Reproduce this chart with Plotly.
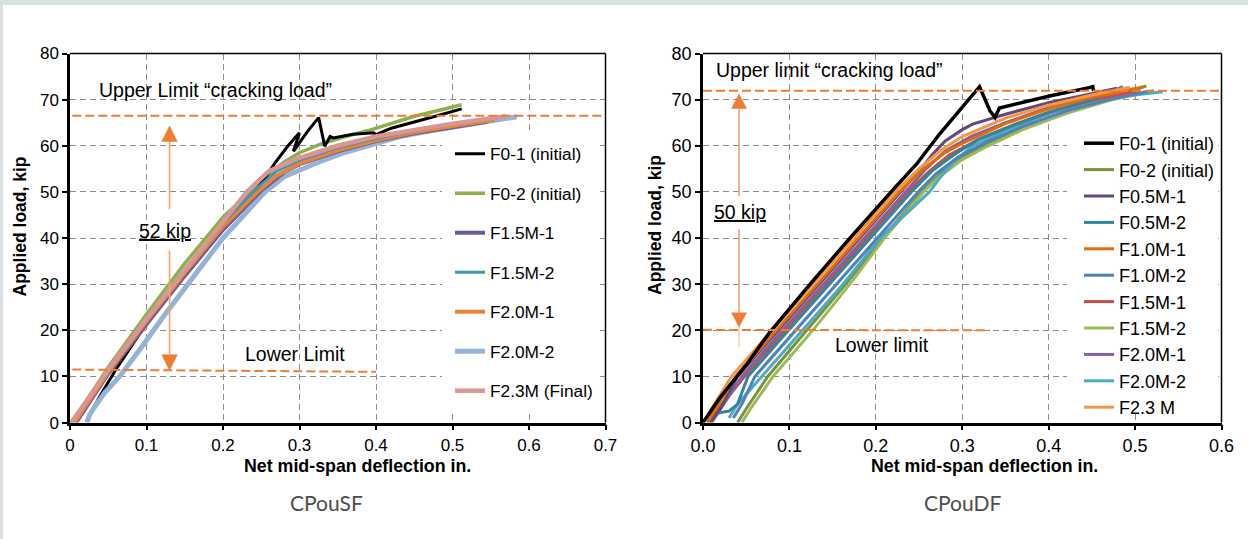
import plotly.graph_objects as go

W, H = 1248, 539
FONT = "Arial, Liberation Sans, sans-serif"

# ---------------- CPouSF (left) data ----------------
SF_NAMES = ["F0-1 (initial)", "F0-2 (initial)", "F1.5M-1", "F1.5M-2", "F2.0M-1", "F2.0M-2", "F2.3M (Final)"]
SF_COLORS = ["#000000", "#8BB04E", "#6E5A98", "#3C98B0", "#E8843A", "#95B3D7", "#D99694"]
SF_WIDTHS = [3, 3.5, 4, 3, 4, 5, 4.5]

sf_f01_x = [0.025, 0.04, 0.06, 0.1, 0.15, 0.2, 0.24, 0.255, 0.268, 0.285, 0.300, 0.292, 0.31, 0.325, 0.333, 0.34, 0.344, 0.37, 0.397, 0.40, 0.42, 0.448, 0.48, 0.512]
sf_f01_y = [1.5, 6.0, 11.5, 21.5, 32.0, 42.2, 49.8, 53.0, 56.3, 60.0, 62.8, 58.8, 63.0, 66.1, 59.9, 62.0, 61.7, 62.5, 62.8, 62.4, 63.8, 65.0, 66.5, 68.0]
sf_f02_x = [0.003, 0.05, 0.1, 0.15, 0.2, 0.235, 0.26, 0.28, 0.3, 0.33, 0.36, 0.39, 0.42, 0.45, 0.48, 0.512]
sf_f02_y = [0.0, 12.0, 23.5, 34.5, 44.5, 50.0, 53.8, 56.5, 58.5, 60.5, 62.0, 63.3, 64.8, 66.4, 67.6, 68.9]
sf_f15m1_x = [0.008, 0.05, 0.1, 0.15, 0.2, 0.25, 0.28, 0.3, 0.35, 0.4, 0.45, 0.5, 0.545]
sf_f15m1_y = [0.0, 10.6, 21.3, 31.8, 41.8, 50.3, 54.3, 56.0, 58.8, 61.0, 62.7, 64.1, 65.2]
sf_f15m2_x = [0.001, 0.05, 0.1, 0.15, 0.2, 0.24, 0.27, 0.3, 0.35, 0.4, 0.45, 0.5, 0.56]
sf_f15m2_y = [0.0, 11.4, 22.5, 33.2, 43.2, 50.2, 54.5, 56.9, 59.6, 61.6, 63.3, 64.7, 66.0]
sf_f20m1_x = [0.006, 0.05, 0.1, 0.15, 0.2, 0.245, 0.27, 0.3, 0.35, 0.4, 0.45, 0.5, 0.555]
sf_f20m1_y = [0.0, 11.0, 22.0, 32.5, 42.5, 50.0, 53.5, 56.2, 59.0, 61.2, 62.9, 64.3, 65.6]
sf_f20m2_x = [0.022, 0.026, 0.033, 0.045, 0.065, 0.08, 0.1, 0.12, 0.144, 0.17, 0.2, 0.23, 0.255, 0.28, 0.3, 0.33, 0.36, 0.4, 0.431, 0.47, 0.51, 0.55, 0.584]
sf_f20m2_y = [0.0, 1.8, 3.6, 6.4, 10.0, 13.2, 17.8, 22.5, 28.0, 33.5, 40.0, 45.5, 50.0, 53.3, 54.8, 56.8, 58.6, 60.5, 62.0, 63.2, 64.3, 65.3, 66.3]
sf_f23m_x = [0.002, 0.05, 0.1, 0.15, 0.2, 0.231, 0.26, 0.3, 0.35, 0.4, 0.453, 0.5, 0.57]
sf_f23m_y = [0.0, 11.5, 22.5, 33.0, 43.5, 50.0, 54.5, 57.4, 60.0, 62.0, 63.5, 64.8, 66.4]

SF_X = [sf_f01_x, sf_f02_x, sf_f15m1_x, sf_f15m2_x, sf_f20m1_x, sf_f20m2_x, sf_f23m_x]
SF_Y = [sf_f01_y, sf_f02_y, sf_f15m1_y, sf_f15m2_y, sf_f20m1_y, sf_f20m2_y, sf_f23m_y]
SF_DRAW_ORDER = [1, 0, 5, 2, 4, 3, 6]

SF_UPPER = 66.5
SF_LOWER = [11.5, 11.0]
SF_LOWER_X = [0.003, 0.4]
SF_ARROW_X = 0.1301
SF_ARROW_Y = [64.3, 60.9, 46.3, 37.3, 14.7, 11.3]   # tip, base, gap start, gap end, base, tip

# ---------------- CPouDF (right) data ----------------
DF_NAMES = ["F0-1 (initial)", "F0-2 (initial)", "F0.5M-1", "F0.5M-2", "F1.0M-1", "F1.0M-2",
            "F1.5M-1", "F1.5M-2", "F2.0M-1", "F2.0M-2", "F2.3 M"]
DF_COLORS = ["#000000", "#77933C", "#604A7B", "#31859C", "#E46C0A", "#4F81BD",
             "#C0504D", "#9BBB59", "#8064A2", "#4BACC6", "#F79646"]
DF_WIDTHS = [3.5, 3, 3, 3, 3, 3, 3, 3, 3, 3, 3]

df_f01_x = [0.0, 0.02, 0.05, 0.077, 0.124, 0.170, 0.220, 0.247, 0.274, 0.297, 0.320, 0.332, 0.338, 0.343, 0.361, 0.401, 0.447, 0.451, 0.452]
df_f01_y = [0.0, 5.5, 12.5, 19.5, 30.0, 40.0, 50.5, 56.0, 62.6, 67.6, 72.8, 67.6, 66.1, 68.2, 69.0, 70.8, 72.6, 72.8, 71.9]
df_f02_x = [0.04, 0.05, 0.075, 0.12, 0.165, 0.208, 0.253, 0.275, 0.3, 0.34, 0.38, 0.43, 0.48, 0.513]
df_f02_y = [0.0, 3.0, 10.0, 20.0, 30.0, 40.0, 50.0, 54.0, 57.5, 61.5, 64.5, 68.0, 70.8, 73.0]
df_f05m1_x = [0.008, 0.02, 0.040, 0.087, 0.134, 0.181, 0.229, 0.25, 0.265, 0.28, 0.3, 0.312, 0.351, 0.401, 0.447, 0.479]
df_f05m1_y = [0.0, 3.0, 10.0, 20.0, 30.0, 40.0, 50.0, 54.5, 58.0, 61.0, 63.5, 64.7, 66.9, 69.4, 71.2, 72.5]
df_f05m2_x = [0.015, 0.03, 0.04, 0.052, 0.099, 0.146, 0.193, 0.241, 0.265, 0.29, 0.32, 0.36, 0.4, 0.45, 0.486]
df_f05m2_y = [2.0, 2.5, 4.0, 10.0, 20.0, 30.0, 40.0, 50.0, 54.5, 58.0, 61.5, 64.5, 67.3, 70.0, 72.8]
df_f10m1_x = [0.005, 0.038, 0.085, 0.132, 0.179, 0.227, 0.255, 0.28, 0.3, 0.35, 0.4, 0.45, 0.5, 0.51]
df_f10m1_y = [0.0, 10.0, 20.0, 30.0, 40.0, 50.0, 55.0, 58.5, 60.5, 64.8, 68.0, 70.5, 72.4, 72.8]
df_f10m2_x = [0.035, 0.045, 0.060, 0.107, 0.154, 0.201, 0.249, 0.27, 0.295, 0.33, 0.37, 0.42, 0.47, 0.515]
df_f10m2_y = [1.0, 4.0, 10.0, 20.0, 30.0, 40.0, 50.0, 54.0, 57.5, 61.0, 64.2, 67.5, 70.0, 71.8]
df_f15m1_x = [0.005, 0.048, 0.095, 0.142, 0.189, 0.237, 0.262, 0.285, 0.32, 0.36, 0.41, 0.46, 0.505]
df_f15m1_y = [0.0, 10.0, 20.0, 30.0, 40.0, 50.0, 54.5, 58.0, 61.5, 64.6, 67.8, 70.3, 72.0]
df_f15m2_x = [0.045, 0.055, 0.081, 0.127, 0.17, 0.21, 0.255, 0.275, 0.3, 0.33, 0.37, 0.42, 0.47, 0.522]
df_f15m2_y = [0.0, 3.0, 10.0, 20.0, 30.0, 40.0, 50.0, 53.5, 57.0, 60.0, 63.5, 67.0, 69.8, 72.0]
df_f20m1_x = [0.01, 0.045, 0.092, 0.139, 0.186, 0.234, 0.258, 0.28, 0.31, 0.35, 0.4, 0.45, 0.49]
df_f20m1_y = [0.0, 10.0, 20.0, 30.0, 40.0, 50.0, 55.0, 58.8, 62.0, 65.0, 68.3, 70.8, 72.3]
df_f20m2_x = [0.03, 0.04, 0.068, 0.115, 0.162, 0.205, 0.262, 0.274, 0.29, 0.312, 0.351, 0.401, 0.447, 0.49, 0.532]
df_f20m2_y = [1.0, 4.0, 10.0, 20.0, 30.0, 40.0, 50.0, 53.0, 56.5, 60.0, 63.4, 67.0, 69.4, 70.8, 71.7]
df_f23m_x = [0.0, 0.033, 0.080, 0.127, 0.174, 0.222, 0.25, 0.275, 0.3, 0.35, 0.4, 0.45, 0.494]
df_f23m_y = [0.0, 10.0, 20.0, 30.0, 40.0, 50.0, 55.0, 59.0, 62.0, 66.0, 68.8, 71.0, 72.7]

DF_X = [df_f01_x, df_f02_x, df_f05m1_x, df_f05m2_x, df_f10m1_x, df_f10m2_x, df_f15m1_x, df_f15m2_x, df_f20m1_x, df_f20m2_x, df_f23m_x]
DF_Y = [df_f01_y, df_f02_y, df_f05m1_y, df_f05m2_y, df_f10m1_y, df_f10m2_y, df_f15m1_y, df_f15m2_y, df_f20m1_y, df_f20m2_y, df_f23m_y]
DF_DRAW_ORDER = [1, 7, 9, 5, 6, 3, 8, 2, 4, 10, 0]

DF_UPPER = 71.9
DF_LOWER = [20.1, 20.0]
DF_LOWER_X = [0.0, 0.332]
DF_ARROW_X = 0.0417
DF_ARROW_Y = [71.2, 68.1, 49.1, 41.9, 23.8, 20.7, 16.4]

# ---------------- geometry (pixels) ----------------
LX0, LX1 = 70.0, 605.5
RX0, RX1 = 703.0, 1221.5
PY0, PY1 = 53.5, 422.6
LXR, RXR, YR = 0.7, 0.6, 80.0


def px(x):
    return x / W


def py(y):
    return 1 - y / H


def lx_data(p):
    return (p - LX0) / (LX1 - LX0) * LXR


def rx_data(p):
    return (p - RX0) / (RX1 - RX0) * RXR


def y_data(p):
    return (PY1 - p) / (PY1 - PY0) * YR


fig = go.Figure()

for i in SF_DRAW_ORDER:
    fig.add_trace(go.Scatter(
        x=SF_X[i], y=SF_Y[i], mode="lines", name=SF_NAMES[i],
        line=dict(color=SF_COLORS[i], width=SF_WIDTHS[i]),
        legend="legend", legendrank=i + 1, legendgroup="sf%d" % i,
        xaxis="x", yaxis="y", hoverinfo="skip"))

for i in DF_DRAW_ORDER:
    fig.add_trace(go.Scatter(
        x=DF_X[i], y=DF_Y[i], mode="lines", name=DF_NAMES[i],
        line=dict(color=DF_COLORS[i], width=DF_WIDTHS[i]),
        legend="legend2", legendrank=i + 1, legendgroup="df%d" % i,
        xaxis="x2", yaxis="y2", hoverinfo="skip"))

GRID = dict(showgrid=True, gridcolor="#8c8c8c", gridwidth=1, griddash="6px,4px",
            zeroline=False, showline=True, linecolor="black", linewidth=2.5,
            ticks="outside", ticklen=5, tickwidth=1.5, tickcolor="black",
            color="black", automargin=False)

fig.update_layout(
    template="none",
    width=W, height=H, autosize=False,
    margin=dict(l=0, r=0, t=0, b=0, pad=0, autoexpand=False),
    paper_bgcolor="white", plot_bgcolor="rgba(0,0,0,0)",
    font=dict(family=FONT, color="black"),
    showlegend=True,
    xaxis=dict(domain=[px(LX0), px(LX1)], range=[0, LXR], dtick=0.1, anchor="y",
               tickfont=dict(size=17, family=FONT), **GRID),
    yaxis=dict(domain=[py(PY1), py(PY0)], range=[0, YR], dtick=10, anchor="x",
               tickfont=dict(size=17, family=FONT), **GRID),
    xaxis2=dict(domain=[px(RX0), px(RX1)], range=[0, RXR], dtick=0.1, anchor="y2",
                tickformat=".1f", tickfont=dict(size=18, family=FONT), **GRID),
    yaxis2=dict(domain=[py(PY1), py(PY0)], range=[0, YR], dtick=10, anchor="x2",
                tickfont=dict(size=18, family=FONT), **GRID),
    legend=dict(x=px(450), y=py(136), xanchor="left", yanchor="top",
                bgcolor="rgba(0,0,0,0)", borderwidth=0,
                font=dict(size=17.3, family=FONT, color="black"),
                traceorder="grouped", tracegroupgap=14, itemwidth=30),
    legend2=dict(x=px(1079), y=py(125), xanchor="left", yanchor="top",
                 bgcolor="rgba(0,0,0,0)", borderwidth=0,
                 font=dict(size=18, family=FONT, color="black"),
                 traceorder="grouped", tracegroupgap=0, itemwidth=30),
)

shapes = []
# page frame strips
shapes.append(dict(type="rect", xref="paper", yref="paper", x0=0, x1=1, y0=py(5), y1=1,
                   fillcolor="#D9E1E0", line=dict(width=0), layer="below"))
shapes.append(dict(type="rect", xref="paper", yref="paper", x0=0, x1=px(3), y0=0, y1=1,
                   fillcolor="#D9E1E0", line=dict(width=0), layer="below"))
# legend blank areas
shapes.append(dict(type="rect", xref="x", yref="y", x0=lx_data(442), x1=lx_data(598),
                   y0=y_data(411), y1=y_data(134), fillcolor="white", line=dict(width=0), layer="between"))
shapes.append(dict(type="rect", xref="x2", yref="y2", x0=rx_data(1067), x1=rx_data(1218),
                   y0=y_data(414), y1=y_data(101), fillcolor="white", line=dict(width=0), layer="between"))
# top/right borders
for xa, ya in (("x", "y"), ("x2", "y2")):
    shapes.append(dict(type="line", xref=xa + " domain", yref=ya + " domain", x0=0, x1=1, y0=1, y1=1,
                       line=dict(color="black", width=1.5), layer="above"))
    shapes.append(dict(type="line", xref=xa + " domain", yref=ya + " domain", x0=1, x1=1, y0=0, y1=1,
                       line=dict(color="black", width=1.5), layer="above"))

ORANGE = "#ED7D31"
SHAFT = "#F4A46C"
DASH = "9px,4px"
# limit lines
shapes.append(dict(type="line", xref="x", yref="y", x0=0.003, x1=LXR, y0=SF_UPPER, y1=SF_UPPER,
                   line=dict(color=ORANGE, width=2, dash=DASH), layer="above"))
shapes.append(dict(type="line", xref="x", yref="y", x0=SF_LOWER_X[0], x1=SF_LOWER_X[1], y0=SF_LOWER[0], y1=SF_LOWER[1],
                   line=dict(color=ORANGE, width=2, dash=DASH), layer="above"))
shapes.append(dict(type="line", xref="x2", yref="y2", x0=0.0, x1=RXR, y0=DF_UPPER, y1=DF_UPPER,
                   line=dict(color=ORANGE, width=2, dash=DASH), layer="above"))
shapes.append(dict(type="line", xref="x2", yref="y2", x0=DF_LOWER_X[0], x1=DF_LOWER_X[1], y0=DF_LOWER[0], y1=DF_LOWER[1],
                   line=dict(color=ORANGE, width=2, dash=DASH), layer="above"))


def arrow(xref, yref, xc, ys, halfw):
    out = []
    tip1, base1, g0, g1, base2, tip2 = ys[:6]
    out.append(dict(type="line", xref=xref, yref=yref, x0=xc, x1=xc, y0=base1, y1=g0,
                    line=dict(color=SHAFT, width=1.6), layer="above"))
    out.append(dict(type="line", xref=xref, yref=yref, x0=xc, x1=xc, y0=g1, y1=base2,
                    line=dict(color=SHAFT, width=1.6), layer="above"))
    out.append(dict(type="path", xref=xref, yref=yref,
                    path="M %f,%f L %f,%f L %f,%f Z" % (xc, tip1, xc - halfw, base1, xc + halfw, base1),
                    fillcolor=ORANGE, line=dict(color=ORANGE, width=0.5), layer="above"))
    out.append(dict(type="path", xref=xref, yref=yref,
                    path="M %f,%f L %f,%f L %f,%f Z" % (xc, tip2, xc - halfw, base2, xc + halfw, base2),
                    fillcolor=ORANGE, line=dict(color=ORANGE, width=0.5), layer="above"))
    if len(ys) > 6:
        out.append(dict(type="line", xref=xref, yref=yref, x0=xc, x1=xc, y0=tip2, y1=ys[6],
                        line=dict(color="#F8C8A4", width=1.4), layer="above"))
    return out


shapes += arrow("x", "y", SF_ARROW_X, SF_ARROW_Y, 7.8 / (LX1 - LX0) * LXR)
shapes += arrow("x2", "y2", DF_ARROW_X, DF_ARROW_Y, 7.5 / (RX1 - RX0) * RXR)
fig.update_layout(shapes=shapes)

ANN = 19.5
annotations = [
    dict(text="Upper Limit “cracking load”", x=px(97), y=py(90), xanchor="left", yanchor="middle", font_size=ANN),
    dict(text="Lower Limit", x=px(243), y=py(354), xanchor="left", yanchor="middle", font_size=ANN),
    dict(text="<u>52 kip</u>", x=px(165), y=py(231), xanchor="center", yanchor="middle", font_size=ANN),
    dict(text="Upper limit “cracking load”", x=px(714), y=py(70), xanchor="left", yanchor="middle", font_size=ANN),
    dict(text="Lower limit", x=px(833), y=py(345), xanchor="left", yanchor="middle", font_size=ANN),
    dict(text="<u>50 kip</u>", x=px(740), y=py(212), xanchor="center", yanchor="middle", font_size=ANN),
    dict(text="<b>Net mid-span deflection in.</b>", x=px(357), y=py(466), xanchor="center", yanchor="middle", font_size=17.8),
    dict(text="<b>Net mid-span deflection in.</b>", x=px(984), y=py(466), xanchor="center", yanchor="middle", font_size=17.8),
    dict(text="<b>Applied load, kip</b>", x=px(19.5), y=py(227), xanchor="center", yanchor="middle", textangle=-90, font_size=17.5),
    dict(text="<b>Applied load, kip</b>", x=px(655), y=py(225), xanchor="center", yanchor="middle", textangle=-90, font_size=17.5),
    dict(text="CPouSF", x=px(326), y=py(503), xanchor="center", yanchor="middle",
         font=dict(size=21, family="Lato, Open Sans, sans-serif", color="#4D4D4D")),
    dict(text="CPouDF", x=px(963), y=py(503), xanchor="center", yanchor="middle",
         font=dict(size=21, family="Lato, Open Sans, sans-serif", color="#4D4D4D")),
]
for a in annotations:
    a.setdefault("xref", "paper")
    a.setdefault("yref", "paper")
    a.setdefault("showarrow", False)
    if "font_size" in a:
        a["font"] = dict(size=a.pop("font_size"), family=FONT, color="black")
fig.update_layout(annotations=annotations)

fig.write_html("out.html",
               config={"displayModeBar": False, "responsive": False},
               post_script="document.body.style.margin='0';document.body.style.padding='0';"
                           "document.body.style.background='white';")
